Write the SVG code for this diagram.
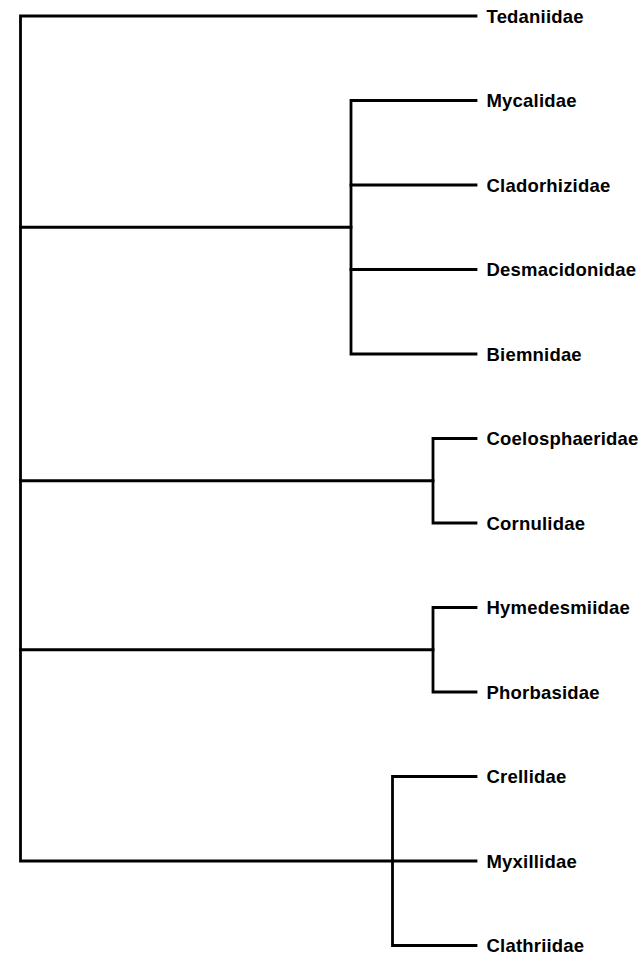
<svg xmlns="http://www.w3.org/2000/svg" width="641" height="957" viewBox="0 0 641 957">
  <style>
    .edge { fill: none; stroke: #000; stroke-width: 2.8; stroke-linecap: square; stroke-linejoin: miter; }
    .leaf { font-family: "Liberation Sans", Arial, sans-serif; font-weight: bold; font-size: 18.5px; letter-spacing: 0.2px; fill: #000; }
  </style>
  <rect width="641" height="957" fill="#fff"/>

  <!-- tree branches -->
  <g id="connectors">
    <!-- root: spans Tedaniidae down to the Myxillidae level -->
    <path class="edge" d="M476,16 H20.5 V861 H476"/>
    <path class="edge" d="M20.5,227.25 H351"/>
    <path class="edge" d="M20.5,480.75 H433"/>
    <path class="edge" d="M20.5,649.75 H433"/>
    <!-- Mycalidae clade -->
    <path class="edge" d="M476,100.5 H351 V354 H476"/>
    <path class="edge" d="M351,185 H476"/>
    <path class="edge" d="M351,269.5 H476"/>
    <!-- Coelosphaeridae + Cornulidae -->
    <path class="edge" d="M476,438.5 H433 V523 H476"/>
    <!-- Hymedesmiidae + Phorbasidae -->
    <path class="edge" d="M476,607.5 H433 V692 H476"/>
    <!-- Crellidae / Myxillidae / Clathriidae -->
    <path class="edge" d="M476,776.5 H392.5 V945.5 H476"/>
  </g>

  <!-- leaf labels -->
  <g id="tedaniidae"><text class="leaf" x="486.5" y="22.8">Tedaniidae</text></g>
  <g id="mycalidae"><text class="leaf" x="486.5" y="107.3">Mycalidae</text></g>
  <g id="cladorhizidae"><text class="leaf" x="486.5" y="191.8">Cladorhizidae</text></g>
  <g id="desmacidonidae"><text class="leaf" x="486.5" y="276.3">Desmacidonidae</text></g>
  <g id="biemnidae"><text class="leaf" x="486.5" y="360.8">Biemnidae</text></g>
  <g id="coelosphaeridae"><text class="leaf" x="486.5" y="445.3">Coelosphaeridae</text></g>
  <g id="cornulidae"><text class="leaf" x="486.5" y="529.8">Cornulidae</text></g>
  <g id="hymedesmiidae"><text class="leaf" x="486.5" y="614.3">Hymedesmiidae</text></g>
  <g id="phorbasidae"><text class="leaf" x="486.5" y="698.8">Phorbasidae</text></g>
  <g id="crellidae"><text class="leaf" x="486.5" y="783.3">Crellidae</text></g>
  <g id="myxillidae"><text class="leaf" x="486.5" y="867.8">Myxillidae</text></g>
  <g id="clathriidae"><text class="leaf" x="486.5" y="952.3">Clathriidae</text></g>
</svg>
